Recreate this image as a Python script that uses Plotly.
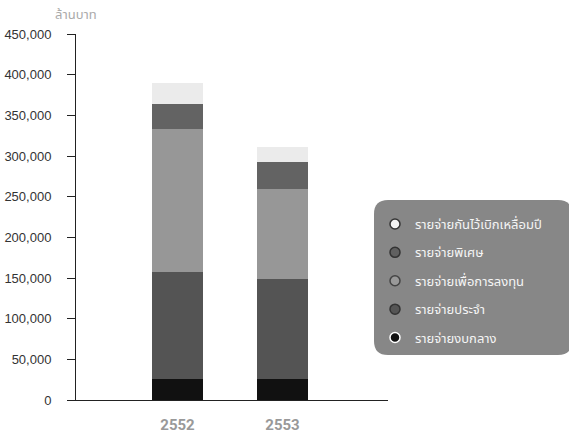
import plotly.graph_objects as go

years = ["2552", "2553"]
central = [26200, 26200]       # รายจ่ายงบกลาง
regular = [131300, 122700]     # รายจ่ายประจำ
investment = [176000, 110700]  # รายจ่ายเพื่อการลงทุน
special = [30800, 33200]       # รายจ่ายพิเศษ
reserve = [25800, 18400]       # รายจ่ายกันไว้เบิกเหลื่อมปี

series = [
    ("รายจ่ายงบกลาง", central, "#111111"),
    ("รายจ่ายประจำ", regular, "#545454"),
    ("รายจ่ายเพื่อการลงทุน", investment, "#979797"),
    ("รายจ่ายพิเศษ", special, "#636363"),
    ("รายจ่ายกันไว้เบิกเหลื่อมปี", reserve, "#ebebeb"),
]
legend_style = {
    "รายจ่ายกันไว้เบิกเหลื่อมปี": ("#f2f2f2", "#333333"),
    "รายจ่ายพิเศษ": ("#606060", "#333333"),
    "รายจ่ายเพื่อการลงทุน": ("#999999", "#444444"),
    "รายจ่ายประจำ": ("#555555", "#333333"),
    "รายจ่ายงบกลาง": ("#111111", "#ffffff"),
}

W, H = 569, 434
L, R, T, B = 76, 181, 34, 34
pw, ph = W - L - R, H - T - B

def px_x(p):
    return (p - L) / pw

def px_y(p):
    return (H - B - p) / ph

fig = go.Figure()
for name, vals, color in series:
    fig.add_trace(go.Bar(x=[0, 1], y=vals, name=name, marker=dict(color=color, line=dict(width=0)),
                         width=0.486, showlegend=False))

for name, vals, color in reversed(series):
    fill, outline = legend_style[name]
    fig.add_trace(go.Scatter(x=[None], y=[None], mode="markers", name=name, legendgroup=name,
                             marker=dict(symbol="circle", size=10, color=fill,
                                         line=dict(color=outline, width=1.5))))

# rounded legend box
x0, x1, y0, y1, r = px_x(374), px_x(572), px_y(200), px_y(355), 14
rx, ry = r / pw, r / ph
path = (f"M {x0+rx},{y0} L {x1-rx},{y0} Q {x1},{y0} {x1},{y0-ry} "
        f"L {x1},{y1+ry} Q {x1},{y1} {x1-rx},{y1} L {x0+rx},{y1} Q {x0},{y1} {x0},{y1+ry} "
        f"L {x0},{y0-ry} Q {x0},{y0} {x0+rx},{y0} Z")
fig.add_shape(type="path", path=path, xref="paper", yref="paper", fillcolor="#878787",
              line=dict(width=0), layer="below")

fig.update_layout(
    width=W, height=H,
    margin=dict(l=L, r=R, t=T, b=B, pad=0, autoexpand=False),
    barmode="stack",
    plot_bgcolor="white", paper_bgcolor="white",
    font=dict(family="Liberation Sans, Arial, sans-serif", size=13, color="#333333"),
    legend=dict(x=px_x(375), y=px_y(209), xanchor="left", yanchor="top",
                bgcolor="rgba(0,0,0,0)", font=dict(size=13, color="#f5f5f5",
                family="Noto Sans Thai, Noto Sans, sans-serif"),
                tracegroupgap=8.5, itemsizing="trace"),
    xaxis=dict(range=[-0.967, 2.005], tickmode="array", tickvals=[0, 1], ticktext=years,
               showgrid=False, zeroline=False, showline=True, linecolor="#222222", linewidth=1,
               ticks="", automargin=False,
               tickfont=dict(size=15, color="#999999", family="Roboto, sans-serif", weight="bold"),
               ticklabelstandoff=11),
    yaxis=dict(range=[0, 450000], tickvals=[0, 50000, 100000, 150000, 200000, 250000, 300000, 350000, 400000, 450000],
               tickformat=",d", showgrid=False, zeroline=False, showline=True, linecolor="#222222",
               linewidth=1, ticks="outside", ticklen=8, tickcolor="#222222", automargin=False,
               tickfont=dict(size=13, color="#333333"), ticklabelstandoff=13),
    annotations=[dict(text="ล้านบาท", xref="paper", yref="paper", x=px_x(76), y=px_y(15),
                      xanchor="center", yanchor="middle", showarrow=False,
                      font=dict(size=13, color="#aaaaaa", family="Noto Sans Thai, Noto Sans, sans-serif"))],
)
fig.update_layout(bargap=0)
fig.write_html("out.html")
